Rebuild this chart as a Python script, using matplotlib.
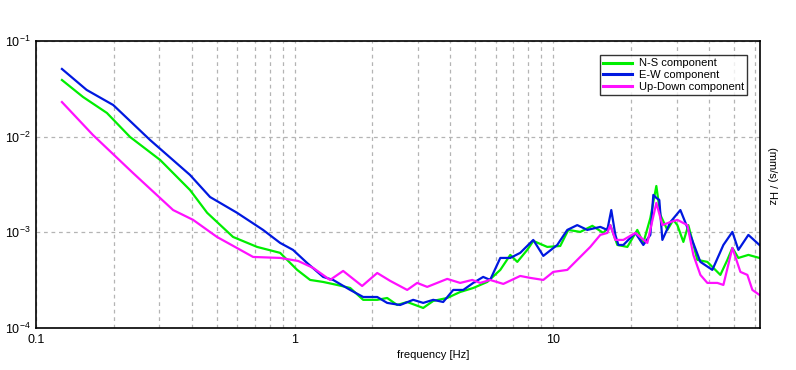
import matplotlib
matplotlib.use("Agg")
import matplotlib.pyplot as plt
from matplotlib.ticker import LogLocator, NullFormatter, FixedLocator

plt.rcParams["font.family"] = ["Liberation Sans", "DejaVu Sans"]
plt.rcParams["mathtext.fontset"] = "custom"
plt.rcParams["mathtext.rm"] = "Liberation Sans"

# E-W component
ew_freq = [0.126, 0.157, 0.199, 0.276, 0.394, 0.471, 0.599, 0.755, 0.879, 0.986,
           1.117, 1.289, 1.409, 1.640, 1.841, 2.086, 2.279, 2.559, 2.873, 3.141,
           3.435, 3.753, 4.105, 4.487, 4.904, 5.358, 5.70, 6.24, 6.82, 7.45,
           8.37, 9.15, 10.36, 11.33, 12.38, 13.54, 15.20, 16.18, 16.76, 17.38,
           17.85, 18.66, 20.76, 22.29, 23.73, 24.37, 25.03, 25.70, 26.41, 28.36,
           31.00, 33.28, 37.05, 41.21, 45.47, 49.26, 51.96, 56.80, 62.66]
ew_psd = [0.0510, 0.0308, 0.0214, 0.00924, 0.00398, 0.00234, 0.00160, 0.00106, 0.000775, 0.000655,
          0.000479, 0.000342, 0.000318, 0.000250, 0.000211, 0.000211, 0.000183, 0.000174, 0.000197, 0.000183,
          0.000197, 0.000187, 0.000250, 0.000250, 0.000296, 0.000342, 0.000318, 0.000540, 0.000540, 0.000610,
          0.000833, 0.000567, 0.000738, 0.00106, 0.00119, 0.00106, 0.00114, 0.00106, 0.00171, 0.000940,
          0.000738, 0.000738, 0.000986, 0.000738, 0.000940, 0.00246, 0.00229, 0.00218, 0.000833, 0.00128,
          0.00171, 0.00106, 0.000491, 0.000405, 0.000738, 0.00101, 0.000655, 0.000940, 0.000738]

# N-S component
ns_freq = [0.126, 0.152, 0.188, 0.231, 0.302, 0.394, 0.459, 0.578, 0.716, 0.879,
           1.023, 1.148, 1.289, 1.459, 1.640, 1.841, 2.086, 2.279, 2.492, 2.724,
           3.141, 3.435, 3.890, 4.366, 4.904, 5.556, 6.24, 6.82, 7.26, 7.93,
           8.37, 9.48, 10.64, 11.43, 12.72, 14.16, 15.61, 16.61, 17.69, 19.34,
           21.13, 22.29, 23.73, 25.03, 25.94, 27.61, 29.13, 30.18, 31.84, 33.28,
           36.06, 39.42, 44.26, 47.10, 49.26, 51.96, 56.80, 62.66]
ns_psd = [0.0391, 0.0260, 0.0177, 0.00993, 0.00571, 0.00277, 0.00160, 0.000895, 0.000704, 0.000610,
          0.000405, 0.000318, 0.000303, 0.000282, 0.000262, 0.000197, 0.000197, 0.000206, 0.000174, 0.000187,
          0.000162, 0.000192, 0.000206, 0.000238, 0.000262, 0.000303, 0.000405, 0.000581, 0.000491, 0.000655,
          0.000813, 0.000704, 0.000720, 0.00106, 0.00101, 0.00117, 0.000986, 0.00119, 0.000738, 0.000704,
          0.00106, 0.000775, 0.00141, 0.00305, 0.00152, 0.00106, 0.00135, 0.00119, 0.000794, 0.00119,
          0.000515, 0.000491, 0.000359, 0.000515, 0.000687, 0.000540, 0.000581, 0.000540]

# Up-Down component
ud_freq = [0.126, 0.166, 0.237, 0.339, 0.405, 0.501, 0.691, 0.879, 1.032, 1.179,
           1.371, 1.540, 1.824, 2.086, 2.341, 2.724, 2.977, 3.255, 3.890, 4.366,
           4.861, 5.220, 5.70, 6.41, 7.45, 8.15, 9.15, 10.0, 11.33, 12.38,
           13.90, 15.20, 16.18, 16.61, 17.38, 18.66, 20.76, 23.10, 25.03, 26.41,
           28.36, 30.18, 32.99, 34.80, 37.05, 39.42, 43.09, 45.47, 49.26, 52.90,
           56.30, 58.86, 62.66]
ud_psd = [0.0230, 0.01042, 0.00418, 0.00171, 0.00135, 0.000895, 0.000553, 0.000540, 0.000502, 0.000425,
          0.000318, 0.000395, 0.000275, 0.000376, 0.000311, 0.000250, 0.000296, 0.000269, 0.000326, 0.000296,
          0.000318, 0.000296, 0.000318, 0.000289, 0.000350, 0.000334, 0.000318, 0.000386, 0.000405, 0.000515,
          0.000704, 0.000940, 0.000986, 0.00119, 0.000833, 0.000833, 0.000986, 0.000775, 0.00203, 0.00119,
          0.00128, 0.00135, 0.00119, 0.000581, 0.000359, 0.000296, 0.000296, 0.000282, 0.000687, 0.000386,
          0.000359, 0.000250, 0.000222]

fig = plt.figure(figsize=(7.96, 3.70), dpi=100)
ax = fig.add_axes([0.0452, 0.1135, 0.9096, 0.7757])

ax.plot(ns_freq, ns_psd, color="#00ee00", lw=1.6, label="N-S component")
ax.plot(ew_freq, ew_psd, color="#0018e0", lw=1.6, label="E-W component")
ax.plot(ud_freq, ud_psd, color="#ff10ff", lw=1.6, label="Up-Down component")

ax.set_xscale("log")
ax.set_yscale("log")
ax.set_xlim(0.1, 63)
ax.set_ylim(1e-4, 1e-1)

ax.xaxis.set_major_locator(FixedLocator([0.1, 1, 10]))
ax.xaxis.set_major_formatter(plt.FixedFormatter(["0.1", "1", "10"]))
ax.xaxis.set_minor_locator(LogLocator(base=10, subs=range(2, 10)))
ax.xaxis.set_minor_formatter(NullFormatter())
ax.yaxis.set_major_locator(FixedLocator([1e-4, 1e-3, 1e-2, 1e-1]))
ax.yaxis.set_major_formatter(plt.FixedFormatter([r"$10^{-4}$", r"$10^{-3}$", r"$10^{-2}$", r"$10^{-1}$"]))
ax.yaxis.set_minor_locator(plt.NullLocator())

ax.grid(True, which="both", axis="x", color="#b4b4b4", linestyle=(0, (3, 3)), lw=0.9)
ax.grid(True, which="major", axis="y", color="#b4b4b4", linestyle=(0, (3, 3)), lw=0.9)
ax.tick_params(which="both", length=0, labelsize=9, pad=4)

for s in ax.spines.values():
    s.set_linewidth(1.2)
    s.set_color("black")

ax.set_xlabel("frequency [Hz]", fontsize=8)
ax.xaxis.set_label_coords(0.548, -0.075)
fig.text(0.970, 0.524, "(mm/s) / Hz", rotation=270, fontsize=8, ha="center", va="center")

leg = ax.legend(loc="upper right", bbox_to_anchor=(0.982, 0.951), fontsize=8,
                frameon=True, fancybox=False, handlelength=2.6, borderpad=0.3,
                labelspacing=0.15, handletextpad=0.6, borderaxespad=0)
leg.get_frame().set_edgecolor("black")
leg.get_frame().set_linewidth(1.0)
for line in leg.get_lines():
    line.set_linewidth(2.2)

fig.savefig("out.png", dpi=100)
